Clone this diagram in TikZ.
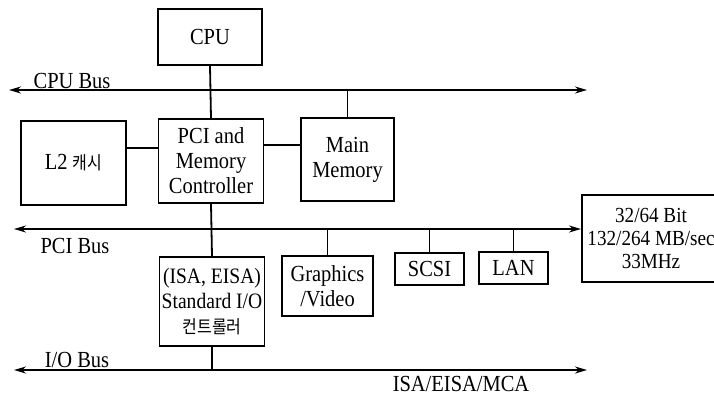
\documentclass[tikz,border=0pt]{standalone}
\usepackage{fontspec}
\setmainfont{Liberation Serif}[FakeStretch=0.89]
\newfontfamily\kr{Noto Sans CJK KR}[FakeStretch=0.89]
\usetikzlibrary{arrows.meta}
\newcommand\krtext[1]{{\kr\fontsize{18}{25}\selectfont #1}}
\begin{document}
\begin{tikzpicture}[x=1pt,y=-1pt,
    every node/.style={font=\fontsize{23}{25}\selectfont},
    blk/.style={draw,line width=1.8pt,inner sep=1pt,align=center},
    wire/.style={line width=1.8pt},
    bus/.style={line width=1.8pt,{Stealth[length=12pt,width=7pt]}-{Stealth[length=12pt,width=7pt]}},
    buslabel/.style={inner sep=0pt}]
\useasboundingbox (0,0) rectangle (714,396);

% bus end points
\coordinate (cpubusL) at (9,90);
\coordinate (cpubusR) at (587,90);
\coordinate (pcibusL) at (14,229);
\coordinate (pcibusR) at (581,229);
\coordinate (iobusL) at (14,370);
\coordinate (iobusR) at (587,370);
\coordinate (l2link) at (140,148);
\coordinate (mmlink) at (280,145);

% blocks
\node[blk,minimum width=104pt,minimum height=56pt] (cpu) at (210,37) {CPU};
\node[blk,minimum width=105pt,minimum height=84pt] (l2) at (73.5,163) {L2 \krtext{캐시}};
\node[blk,minimum width=105pt,minimum height=84pt] (pci) at (211,161) {PCI and\\Memory\\Controller};
\node[blk,minimum width=93pt,minimum height=83pt] (mm) at (347.5,159.5) {Main\\Memory};
\node[blk,minimum width=105pt,minimum height=89pt,font=\fontsize{22}{25}\selectfont] (sio) at (212,301.5) {(ISA, EISA)\\Standard I/O\\\krtext{컨트롤러}};
\node[blk,minimum width=91pt,minimum height=60pt] (gfx) at (327.5,286) {Graphics\\/Video};
\node[blk,minimum width=69pt,minimum height=32pt] (scsi) at (429.5,269) {SCSI};
\node[blk,minimum width=69pt,minimum height=32pt] (lan) at (513.5,268) {LAN};
\node[blk,minimum width=138pt,minimum height=87pt,font=\fontsize{21.5}{23}\selectfont] (spec) at (651,238.5) {32/64 Bit\\132/264 MB/sec\\33MHz};

% buses
\draw[bus] (cpubusL) -- (cpubusR);
\draw[bus] (pcibusL) -- (pcibusR);
\draw[bus] (iobusL) -- (iobusR);

% bus labels
\node[buslabel] (cpubuslbl) at (72,81) {CPU Bus};
\node[buslabel] (pcibuslbl) at (75,246) {PCI Bus};
\node[buslabel] (iobuslbl) at (77,360) {I/O Bus};
\node[buslabel] (isalbl) at (461,384) {ISA/EISA/MCA};

% connections
\draw[wire] (cpu.south) -- (pci.north);
\draw[wire] (mm.north) -- (mm.north |- cpubusL);
\draw[wire] (l2link -| l2.east) -- (l2link -| pci.west);
\draw[wire] (mmlink -| pci.east) -- (mmlink -| mm.west);
\draw[wire] (pci.south) -- (sio.north);
\draw[wire] (gfx.north) -- (gfx.north |- pcibusL);
\draw[wire] (scsi.north) -- (scsi.north |- pcibusL);
\draw[wire] (lan.north) -- (lan.north |- pcibusL);
\draw[wire] (sio.south) -- (sio.south |- iobusL);
\end{tikzpicture}
\end{document}
